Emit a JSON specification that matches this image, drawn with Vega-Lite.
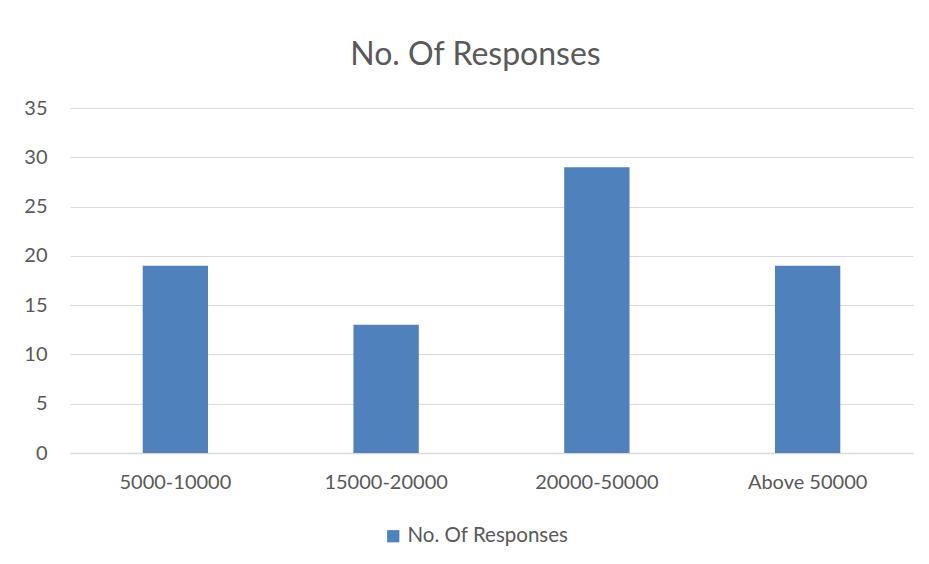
{
  "$schema": "https://vega.github.io/schema/vega-lite/v6.json",
  "width": 843,
  "height": 345,
  "autosize": {"type": "none"},
  "padding": {"left": 70, "top": 108, "right": 16, "bottom": 111},
  "background": "white",
  "title": {
    "text": "No. Of Responses",
    "font": "Lato",
    "fontSize": 32,
    "fontWeight": "normal",
    "color": "#595959",
    "anchor": "middle",
    "dx": -16,
    "offset": 26
  },
  "data": {
    "values": [
      {"range": "5000-10000", "responses": 19, "series": "No. Of Responses"},
      {"range": "15000-20000", "responses": 13, "series": "No. Of Responses"},
      {"range": "20000-50000", "responses": 29, "series": "No. Of Responses"},
      {"range": "Above 50000", "responses": 19, "series": "No. Of Responses"}
    ]
  },
  "mark": {"type": "bar"},
  "encoding": {
    "x": {
      "field": "range",
      "type": "nominal",
      "sort": null,
      "scale": {"paddingInner": 0.69, "paddingOuter": 0.345},
      "axis": {
        "title": null,
        "labelAngle": 0,
        "labelFont": "Lato",
        "labelFontSize": 20,
        "labelColor": "#595959",
        "labelPadding": 19,
        "ticks": false,
        "domain": true,
        "domainColor": "#d9d9d9",
        "domainWidth": 1.5,
        "grid": false
      }
    },
    "y": {
      "field": "responses",
      "type": "quantitative",
      "scale": {"domain": [0, 35], "nice": false},
      "axis": {
        "title": null,
        "values": [0, 5, 10, 15, 20, 25, 30, 35],
        "labelFont": "Lato",
        "labelFontSize": 20,
        "labelColor": "#595959",
        "labelPadding": 23,
        "ticks": false,
        "domain": false,
        "grid": true,
        "gridColor": "#d9d9d9",
        "gridWidth": 1.2
      }
    },
    "color": {
      "field": "series",
      "type": "nominal",
      "scale": {"range": ["#4f81bd"]},
      "legend": {
        "title": null,
        "orient": "none",
        "legendX": 313,
        "legendY": 418,
        "symbolType": "square",
        "symbolSize": 150,
        "symbolStrokeWidth": 0,
        "symbolOpacity": 1,
        "labelFont": "Lato",
        "labelFontSize": 20.5,
        "labelColor": "#595959",
        "labelOffset": 4,
        "labelLimit": 400
      }
    }
  },
  "config": {
    "view": {"stroke": null}
  }
}
